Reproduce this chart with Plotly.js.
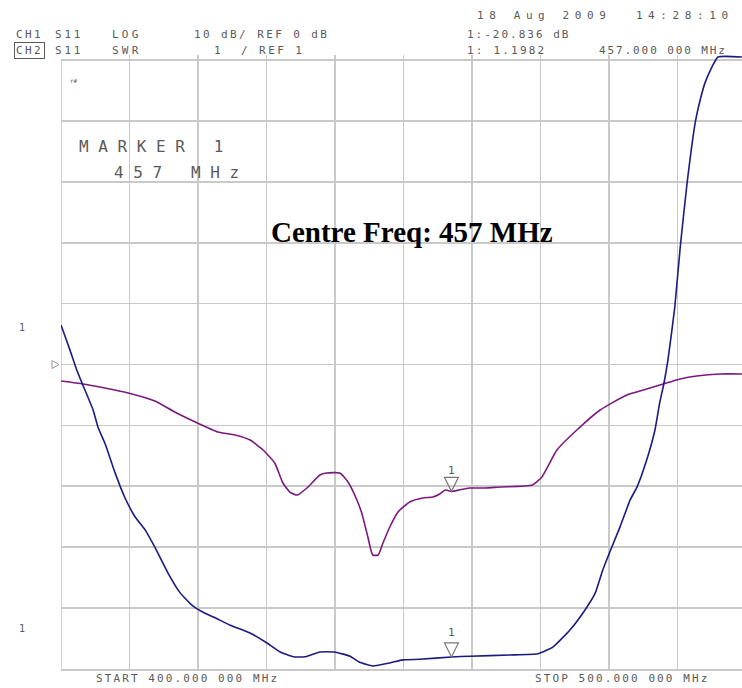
<!DOCTYPE html>
<html>
<head>
<meta charset="utf-8">
<script src="https://cdn.plot.ly/plotly-3.0.1.min.js"></script>
<style>html,body{margin:0;padding:0;background:#fff;}#chart{width:742px;height:688px;}</style>
</head>
<body>
<div id="chart"></div>
<script>
// ---- data ----
// CH1: S11 LOG magnitude (dB)
const freqLog = [400.0, 403.2, 406.4, 409.8, 413.7, 416.6, 419.6, 422.9, 425.4, 427.6, 429.5, 431.2, 432.4, 433.4, 434.5, 435.9, 437.8, 438.8, 440.7, 441.9, 443.2, 443.9, 444.8, 445.5, 446.3, 447.0, 448.0, 449.2, 450.9, 452.8, 454.3, 455.3, 456.1, 457.0, 458.1, 459.6, 461.9, 464.1, 468.8, 470.2, 472.4, 475.3, 478.7, 482.6, 485.5, 487.9, 490.4, 492.8, 496.2, 499.4];
const s11dB = [-2.71, -3.20, -3.86, -4.68, -5.99, -7.80, -9.44, -11.08, -11.58, -12.40, -14.04, -16.17, -19.46, -20.94, -21.43, -20.28, -18.14, -17.82, -17.82, -19.29, -22.25, -24.38, -28.33, -31.28, -31.28, -29.31, -26.68, -24.22, -22.58, -21.92, -21.76, -21.26, -20.61, -20.84, -20.61, -20.28, -20.28, -20.11, -19.79, -18.47, -14.04, -10.76, -7.47, -5.01, -4.02, -3.20, -2.38, -1.89, -1.56, -1.56];
// CH2: S11 SWR
const freqSWR = [400.0, 401.3, 402.3, 403.2, 404.7, 405.4, 406.4, 407.9, 409.3, 410.8, 412.3, 413.7, 415.6, 417.4, 419.1, 420.6, 422.5, 424.7, 427.6, 429.9, 432.0, 433.9, 435.6, 437.8, 439.9, 442.2, 443.6, 445.5, 448.0, 449.9, 452.4, 457.0, 459.7, 465.5, 469.6, 471.8, 474.3, 476.5, 478.0, 479.1, 480.4, 481.6, 483.1, 484.1, 485.5, 486.7, 487.4, 488.0, 488.6, 489.6, 490.4, 491.4, 492.6, 493.3, 494.0, 495.0, 495.9, 499.4];
const swr = [6.65, 6.24, 5.91, 5.66, 5.25, 4.97, 4.71, 4.22, 3.82, 3.50, 3.28, 3.00, 2.58, 2.25, 2.05, 1.94, 1.84, 1.72, 1.59, 1.44, 1.28, 1.20, 1.20, 1.28, 1.28, 1.21, 1.11, 1.05, 1.10, 1.15, 1.16, 1.198, 1.21, 1.23, 1.25, 1.36, 1.64, 1.97, 2.25, 2.63, 3.00, 3.33, 3.78, 3.99, 4.43, 4.92, 5.37, 5.68, 6.07, 6.94, 7.93, 8.98, 9.98, 10.34, 10.62, 10.88, 11.05, 11.05];
// marker 1
const markerFreq = 457.0;
const markerDB = -20.836;
const markerSWR = 1.1982;
// axis settings
const startFreq = 400, stopFreq = 500;
const dbRef = 0, dbPerDiv = 10;
const swrRef = 1, swrPerDiv = 1;

// ---- layout helpers ----
const W = 742, H = 688, L = 61, T = 55, B = 19;
const plotW = W - L, plotH = H - T - B;
const pxPerDiv = 60.9;
const pxPerMHz = 685 / (stopFreq - startFreq);
const xEnd = startFreq + plotW / pxPerMHz;
const divsShown = plotH / pxPerDiv;             // slightly more than 10 so the trace can reach the top edge
const dbBottom = dbRef - 5 * dbPerDiv;
const dbTop = dbBottom + divsShown * dbPerDiv;
const swrTop = swrRef + divsShown * swrPerDiv;
function P(px, py) { return { x: (px - L) / plotW, y: (H - B - py) / plotH }; }

const gray = '#5a5a5a';
const mono = 'DejaVu Sans Mono';
function txt(text, px, py, size, spacing, extra) {
  const p = P(px, py);
  const t = spacing ? '<span style="letter-spacing:' + spacing + 'px">' + text + '</span>' : text;
  return Object.assign({
    text: t, xref: 'paper', yref: 'paper', x: p.x, y: p.y,
    xanchor: 'left', yanchor: 'middle', showarrow: false,
    font: { family: mono, size: size, color: gray }
  }, extra || {});
}

const annotations = [
  txt('18 Aug 2009\u00a0\u00a014:28:10', 475, 16, 11, 5.6),
  txt('CH1', 14, 35, 11, 2.4),
  txt('S11', 53, 35, 11, 2.8),
  txt('LOG', 110, 35, 11, 3.2),
  txt('10 dB/ REF 0 dB', 192, 35, 11, 2.4),
  txt('1:-20.836 dB', 465, 35, 11, 2.0),
  txt('CH2', 14, 50, 11, 2.4, { bordercolor: gray, borderwidth: 1, borderpad: 1 }),
  txt('S11', 53, 50, 11, 2.8),
  txt('SWR', 110, 50, 11, 3.2),
  txt('1\u00a0\u00a0/ REF 1', 212, 50, 11, 2.4),
  txt('1: 1.1982', 465, 50, 11, 2.2),
  txt('457.000 000 MHz', 597, 50, 11, 1.9),
  txt('r#', 68, 80, 6, 0),
  txt('MARKER 1', 77, 147, 16, 9.6),
  txt('457 MHz', 112, 172, 16, 9.6),
  txt('1', 17, 327, 10, 0),
  txt('1', 17, 628, 10, 0),
  txt('START 400.000 000 MHz', 94, 678, 11, 2.1),
  txt('STOP 500.000 000 MHz', 533, 678, 11, 2.1),
  Object.assign(txt('<b>Centre Freq: 457 MHz</b>', 269, 232, 29, 0), { font: { family: 'Liberation Serif', size: 29, color: '#000' } }),
  { text: '1', xref: 'x', yref: 'y', x: markerFreq, y: markerDB, yshift: 21, showarrow: false, font: { family: mono, size: 11, color: gray } },
  { text: '1', xref: 'x', yref: 'y2', x: markerFreq, y: markerSWR, yshift: 24, showarrow: false, font: { family: mono, size: 11, color: gray } }
];

const gridColor = '#c9c9c9';
const triPath = 'M-7,14 L7,14 L0,0 Z';
const shapes = [
  // mask above the top grid line (the trace is drawn over it)
  { type: 'rect', xref: 'paper', yref: 'y', x0: -0.01, x1: 1.01, y0: dbRef + 5 * dbPerDiv + 0.13, y1: dbTop + 1, layer: 'between', fillcolor: '#fff', line: { width: 0 } },
  // left frame line
  { type: 'line', xref: 'x', yref: 'y', x0: startFreq, x1: startFreq, y0: dbBottom, y1: dbRef + 5 * dbPerDiv, layer: 'between', line: { color: gridColor, width: 1.6 } },
  { type: 'path', xref: 'x', yref: 'y', xsizemode: 'pixel', ysizemode: 'pixel', xanchor: markerFreq, yanchor: markerDB, path: triPath, line: { color: '#777', width: 1.2 } },
  { type: 'path', xref: 'x', yref: 'y2', xsizemode: 'pixel', ysizemode: 'pixel', xanchor: markerFreq, yanchor: markerSWR, path: triPath, line: { color: '#777', width: 1.2 } },
  { type: 'path', xref: 'paper', yref: 'y', xsizemode: 'pixel', ysizemode: 'pixel', xanchor: 0, yanchor: dbRef, path: 'M-9,4 L-9,-4 L-2,0 Z', line: { color: '#999', width: 1 } }
];

const traces = [
  { x: freqLog, y: s11dB, type: 'scatter', mode: 'lines', yaxis: 'y', line: { color: '#7b1a7e', width: 1.6, shape: 'spline', smoothing: 0.5 }, name: 'CH1 S11 LOG', hoverinfo: 'skip' },
  { x: freqSWR, y: swr, type: 'scatter', mode: 'lines', yaxis: 'y2', line: { color: '#1b1b82', width: 1.6, shape: 'spline', smoothing: 0.4 }, name: 'CH2 S11 SWR', hoverinfo: 'skip' }
];

const layout = {
  width: W, height: H,
  margin: { l: L, r: 0, t: T, b: B, pad: 0 },
  paper_bgcolor: '#fff', plot_bgcolor: '#fff',
  showlegend: false,
  xaxis: { range: [startFreq, xEnd], tick0: startFreq, dtick: (stopFreq - startFreq) / 10, showgrid: true, gridcolor: gridColor, gridwidth: 1.6, showticklabels: false, ticks: '', zeroline: false, showline: true, linecolor: gridColor, linewidth: 1.6, mirror: false, fixedrange: true },
  yaxis: { range: [dbBottom, dbTop], tick0: dbRef, dtick: dbPerDiv, showgrid: true, gridcolor: gridColor, gridwidth: 1.6, showticklabels: false, ticks: '', zeroline: false, showline: false, fixedrange: true },
  yaxis2: { overlaying: 'y', range: [swrRef, swrTop], showgrid: false, showticklabels: false, ticks: '', zeroline: false, showline: false, fixedrange: true },
  annotations: annotations,
  shapes: shapes
};

Plotly.newPlot('chart', traces, layout, { displayModeBar: false, staticPlot: true });
</script>
</body>
</html>
